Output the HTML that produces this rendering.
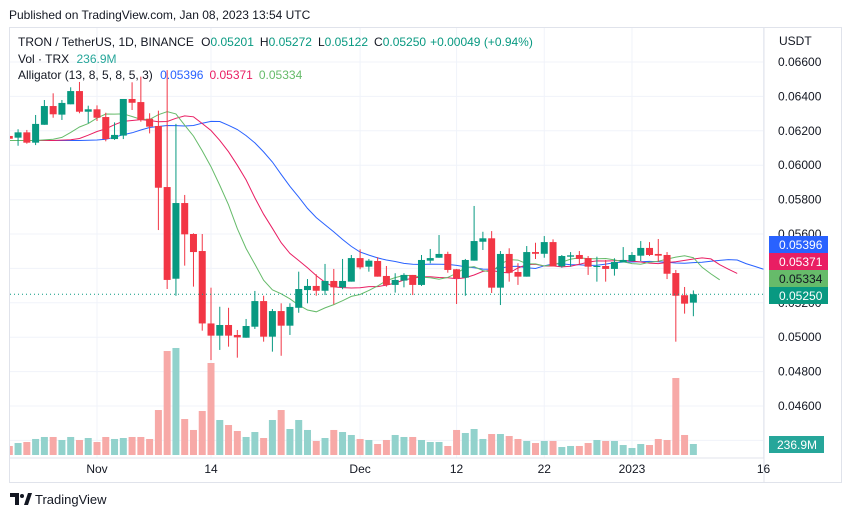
<!DOCTYPE html>
<html><head><meta charset="utf-8"><style>
body{margin:0;background:#fff;width:851px;height:518px;overflow:hidden;font-family:"Liberation Sans",sans-serif;}
svg text{font-family:"Liberation Sans",sans-serif;}
</style></head><body>
<svg id="c" width="851" height="518" xmlns="http://www.w3.org/2000/svg"></svg>
<script>
const dates=[];
const opens=[.06170,.06160,.06191,.06131,.06235,.06344,.06294,.06354,.06431,.06311,.06325,.06280,.06152,.06172,.06385,.06367,.06270,.06228,.05873,.05340,.05780,.05600,.05501,.05080,.05009,.05071,.05013,.04997,.05061,.05210,.05003,.05152,.05067,.05171,.05274,.05298,.05270,.05327,.05290,.05323,.05460,.05410,.05443,.05356,.05304,.05329,.05362,.05304,.05445,.05462,.05484,.05395,.05346,.05445,.05555,.05575,.05288,.05484,.05379,.05352,.05495,.05485,.05553,.05412,.05468,.05478,.05460,.05408,.05414,.05397,.05435,.05443,.05474,.05519,.05484,.05478,.05373,.05244,.05201];
const highs=[.06170,.06209,.06205,.06292,.06379,.06418,.06379,.06453,.06484,.06346,.06348,.06305,.06249,.06385,.06482,.06515,.06302,.06317,.06553,.06240,.05827,.05604,.05600,.05288,.05177,.05171,.05042,.05106,.05269,.05241,.05164,.05197,.05197,.05381,.05338,.05366,.05426,.05397,.05455,.05478,.05511,.05455,.05465,.05414,.05372,.05372,.05362,.05478,.05513,.05594,.05497,.05397,.05455,.05763,.05613,.05617,.05501,.05517,.05430,.05530,.05549,.05588,.05569,.05478,.05495,.05501,.05472,.05468,.05449,.05459,.05524,.05495,.05559,.05553,.05571,.05495,.05391,.05292,.05272];
const lows=[.06117,.06113,.06125,.06117,.06235,.06276,.06263,.06354,.06302,.06244,.06257,.06139,.06147,.06152,.06321,.06253,.06185,.05623,.05280,.05241,.05416,.05294,.05038,.04867,.04926,.04945,.04881,.04997,.05048,.04974,.04916,.04892,.05013,.05142,.05197,.05241,.05245,.05191,.05279,.05323,.05395,.05381,.05352,.05294,.05259,.05290,.05245,.05298,.05430,.05462,.05375,.05193,.05241,.05445,.05507,.05257,.05187,.05323,.05304,.05352,.05455,.05462,.05412,.05404,.05410,.05426,.05362,.05323,.05323,.05358,.05435,.05443,.05443,.05472,.05439,.05338,.04974,.05137,.05122];
const closes=[.06154,.06191,.06131,.06240,.06344,.06296,.06362,.06431,.06311,.06325,.06276,.06152,.06176,.06385,.06363,.06263,.06224,.05869,.05333,.05780,.05598,.05495,.05080,.05009,.05071,.05009,.04999,.05065,.05210,.05003,.05152,.05067,.05176,.05280,.05298,.05270,.05327,.05290,.05327,.05460,.05406,.05445,.05352,.05304,.05333,.05362,.05304,.05449,.05460,.05484,.05391,.05344,.05449,.05559,.05575,.05288,.05484,.05375,.05352,.05495,.05485,.05553,.05412,.05472,.05476,.05455,.05410,.05414,.05397,.05437,.05449,.05478,.05519,.05478,.05474,.05369,.05241,.05195,.05250];
const volumes=[194,258,280,345,388,388,323,388,323,366,280,388,345,366,388,388,345,969,2240,2305,775,539,948,1982,754,646,517,388,495,366,754,969,560,754,539,302,366,539,495,431,345,323,237,323,431,388,388,323,280,280,194,539,474,560,345,452,452,409,345,302,258,302,302,172,194,194,258,323,302,302,215,151,237,215,345,323,1659,431,237];
const priceTicks=[0.066,0.064,0.062,0.060,0.058,0.056,0.054,0.052,0.050,0.048,0.046];
const timeLabels=["Nov","14","Dec","12","22","2023","16"];
const timeLabelIdx=[10,23,40,51,61,71,86];

const NS="http://www.w3.org/2000/svg";
const svg=document.getElementById('c');
function mk(t,a,p){const e=document.createElementNS(NS,t);for(const k in a)e.setAttribute(k,a[k]);(p||svg).appendChild(e);return e;}
const PL=10,PR=764,PT=28,PB=482;
const xOf=i=>97+(i-10)*8.77;
const yOf=p=>62+(0.066-p)*17200;
const vOf=v=>455-v/21.54;

// header
let t=mk('text',{x:9,y:19,'font-size':12,fill:'#131722'});t.textContent='Published on TradingView.com, Jan 08, 2023 13:54 UTC';


let fr=mk('rect',{x:9.5,y:27.5,width:832,height:455,fill:'#fff',stroke:'#e0e3eb'});


// grid
priceTicks.concat([0.044]).forEach(p=>{const y=yOf(p);const g=mk('line',{x1:PL,x2:PR,y1:y,y2:y,stroke:'#f0f3fa'});

});
timeLabelIdx.forEach(i=>{const x=xOf(i);const g=mk('line',{x1:x,x2:x,y1:PT,y2:458,stroke:'#f0f3fa'});

});
mk('line',{x1:PR,x2:PR,y1:PT,y2:PB,stroke:'#e0e3eb'});
mk('line',{x1:PL,x2:PR,y1:458,y2:458,stroke:'#e0e3eb'});
const clip=mk('clipPath',{id:'pc'});mk('rect',{x:PL,y:PT,width:PR-PL,height:430},clip);
const g=mk('g',{'clip-path':'url(#pc)'});
// volumes
volumes.forEach((v,i)=>{const up=closes[i]>=opens[i];const x=xOf(i);
const r=mk('rect',{x:x-3.5,y:vOf(v),width:7,height:455-vOf(v),fill:up?'#92d2cc':'#f7a9a7'},g);

});
// alligator
const med=highs.map((h,i)=>(h+lows[i])/2);
function smma(n){const o=[];med.forEach((m,i)=>{o.push(i?(o[i-1]*(n-1)+m)/n:m)});return o;}
function line(n,sh,col,name){const s=smma(n);let d='';
for(let i=-12;i<s.length+sh;i++){const src=i-sh;const v=src<0?s[0]:s[src];if(src>=s.length)break;d+=(d?'L':'M')+xOf(i).toFixed(1)+','+yOf(v).toFixed(1);}
const p=mk('path',{d:d,fill:'none',stroke:col,'stroke-width':1},g);

}
line(13,8,'#2962ff','alligator-jaw');line(8,5,'#e91e63','alligator-teeth');line(5,3,'#66bb6a','alligator-lips');
// candles
opens.forEach((o,i)=>{const c=closes[i];const up=c>=o;const col=up?'#089981':'#f23645';const x=xOf(i);
const w=mk('line',{x1:x,x2:x,y1:yOf(highs[i]),y2:yOf(lows[i]),stroke:col,'stroke-width':1},g);


const top=yOf(Math.max(o,c)),bot=yOf(Math.min(o,c));
const b=mk('rect',{x:x-3.5,y:top,width:7,height:Math.max(1,bot-top),fill:col},g);

});
// last price line
const ly=yOf(closes[closes.length-1]);
mk('line',{x1:PL,x2:PR,y1:ly,y2:ly,stroke:'#089981','stroke-dasharray':'1,3'});
// price axis
priceTicks.forEach(p=>{const tt=mk('text',{x:778,y:yOf(p)+4,'font-size':12,fill:'#131722'});tt.textContent=p.toFixed(5);

});
let u=mk('text',{x:779,y:45,'font-size':12,fill:'#131722'});u.textContent='USDT';
const badges=[['0.05396','#2962ff','#fff',236],['0.05371','#e91e63','#fff',253],['0.05334','#66bb6a','#131722',270],['0.05250','#089981','#fff',287]];
badges.forEach(b=>{const r=mk('rect',{x:769,y:b[3],width:59,height:17,fill:b[1]});


const tt=mk('text',{x:779,y:b[3]+13,'font-size':12,fill:b[2]});tt.textContent=b[0];});
mk('rect',{x:769,y:436,width:55,height:17,fill:'#26a69a'});
let vt=mk('text',{x:777,y:449,'font-size':12,fill:'#fff'});vt.textContent='236.9M';


// time axis
timeLabels.forEach((l,k)=>{const tt=mk('text',{x:xOf(timeLabelIdx[k]),y:473,'font-size':12,fill:'#131722','text-anchor':'middle'});tt.textContent=l;

});
// legend
function txt(x,y,s,col,name){const e=mk('text',{x:x,y:y,'font-size':12,fill:col});e.textContent=s;

return e;}
const L=mk('text',{x:18,y:46,'font-size':12,fill:'#131722'});


L.innerHTML='TRON / TetherUS, 1D, BINANCE  <tspan dx="4">O</tspan><tspan fill="#089981">0.05201</tspan><tspan dx="6">H</tspan><tspan fill="#089981">0.05272</tspan><tspan dx="6">L</tspan><tspan fill="#089981">0.05122</tspan><tspan dx="6">C</tspan><tspan fill="#089981">0.05250</tspan><tspan dx="4" fill="#089981">+0.00049 (+0.94%)</tspan>';
const V=mk('text',{x:18,y:63,'font-size':12,fill:'#131722'});


V.innerHTML='Vol · TRX <tspan dx="4" fill="#26a69a">236.9M</tspan>';
const A=mk('text',{x:18,y:79,'font-size':12,fill:'#131722'});


A.innerHTML='Alligator (13, 8, 5, 8, 5, 3) <tspan dx="4" fill="#2962ff">0.05396</tspan><tspan dx="6" fill="#e91e63">0.05371</tspan><tspan dx="6" fill="#66bb6a">0.05334</tspan>';
// footer logo
const lg=mk('g',{});


mk('path',{d:'M10 493h9v12h-4v-8h-5z',fill:'#131722'},lg);
mk('circle',{cx:22,cy:496,r:2,fill:'#131722'},lg);
mk('path',{d:'M24 505l4-12h4l-4 12z',fill:'#131722'},lg);
const ft=mk('text',{x:35,y:504,'font-size':13,fill:'#131722'},lg);ft.textContent='TradingView';
</script>
</body></html>
